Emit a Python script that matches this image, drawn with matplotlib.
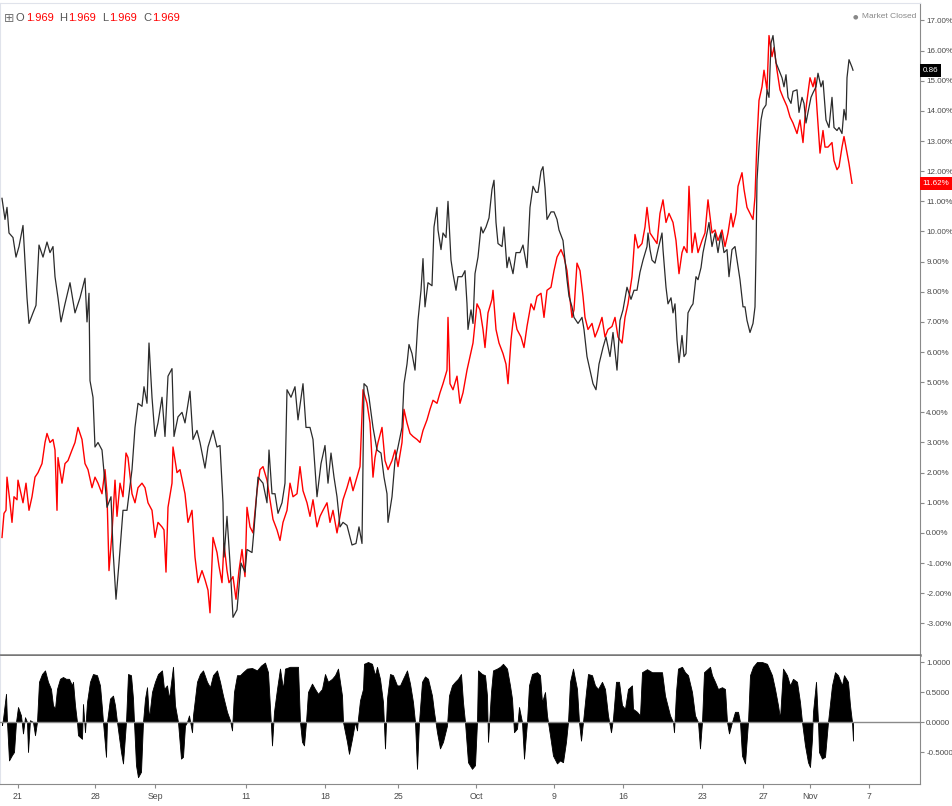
import matplotlib
matplotlib.use("Agg")
import matplotlib.pyplot as plt
import matplotlib.transforms as mtransforms
import numpy as np

plt.rcParams["font.family"] = ["Liberation Sans", "DejaVu Sans"]
plt.rcParams["axes.unicode_minus"] = False

# ---------------------------------------------------------------------------
# Data (x = bar index, values in % for the price panel, correlation below)
# ---------------------------------------------------------------------------
black_bar = [2, 5, 7, 9, 13, 16, 19, 23, 27, 29, 33, 36, 39, 43, 47, 50, 53, 55, 58, 61,
             65, 70, 75, 80, 85, 87, 89, 90, 93, 95, 98, 102, 105, 107, 111, 113, 116, 119,
             123, 127, 132, 135, 138, 142, 144, 147, 149, 152, 155, 158, 162, 165, 168, 172,
             174, 178, 182, 185, 190, 193, 197, 200, 205, 208, 213, 217, 220, 223, 224, 227,
             230, 233, 237, 241, 245, 247, 252, 254, 258, 263, 267, 269, 272, 275, 278, 282,
             285, 287, 291, 295, 298, 303, 306, 310, 313, 317, 321, 325, 328, 331, 334, 337,
             340, 343, 347, 352, 356, 359, 362, 364, 367, 369, 373, 377, 381, 384, 387, 388,
             392, 395, 398, 402, 404, 407, 409, 412, 415, 418, 421, 423, 425, 428, 432, 434,
             437, 438, 441, 443, 446, 448, 451, 453, 456, 458, 462, 465, 467, 468, 471, 473,
             475, 478, 481, 483, 486, 489, 492, 494, 496, 498, 502, 504, 507, 509, 513, 516,
             520, 523, 527, 530, 533, 536, 538, 541, 543, 545, 547, 551, 554, 557, 559, 563,
             565, 567, 569, 572, 574, 578, 582, 584, 587, 590, 593, 596, 599, 603, 606, 610,
             613, 617, 620, 623, 627, 631, 634, 637, 640, 643, 647, 648, 650, 652, 655, 658,
             662, 663, 666, 668, 671, 673, 675, 677, 679, 682, 684, 686, 688, 691, 693, 696,
             698, 701, 703, 707, 709, 712, 715, 718, 721, 724, 727, 729, 732, 735, 737, 740,
             743, 745, 747, 750, 753, 755, 756, 757, 759, 761, 763, 766, 767, 769, 771, 773,
             776, 779, 782, 784, 786, 788, 791, 793, 797, 799, 802, 804, 806, 808, 811, 813,
             816, 818, 821, 823, 826, 829, 832, 834, 837, 839, 842, 844, 846, 847, 849, 852,
             853]
black_val = [11.1, 10.4, 10.8, 9.95, 9.8, 9.15, 9.5, 10.2, 7.8, 6.95, 7.3, 7.55, 9.55, 9.15,
             9.65, 9.3, 9.5, 8.5, 7.8, 7.0, 7.6, 8.3, 7.3, 7.8, 8.45, 7.0, 7.95, 5.05, 4.5,
             2.85, 3.0, 2.75, 1.65, 0.85, 1.2, -0.55, -2.2, -1.0, 0.75, 0.75, 2.1, 3.5, 4.3,
             4.2, 4.85, 4.3, 6.3, 4.5, 3.2, 3.65, 4.5, 3.2, 5.2, 5.45, 3.2, 3.85, 4.0, 3.65,
             4.7, 3.1, 3.4, 3.0, 2.15, 2.85, 3.4, 2.85, 2.9, 1.0, -0.8, 0.55, -1.0, -2.8,
             -2.55, -1.0, -1.3, -0.55, -0.65, 0.1, 1.85, 1.65, 1.0, 2.75, 1.3, 1.3, 0.65, 1.0,
             1.65, 4.75, 4.5, 4.85, 3.75, 4.95, 3.5, 3.5, 3.1, 1.2, 2.3, 2.9, 1.65, 2.65, 1.85,
             1.2, 0.2, 0.35, 0.25, -0.4, -0.35, 0.2, -0.35, 4.95, 4.85, 4.5, 3.5, 2.75, 2.65,
             1.85, 1.3, 0.35, 1.2, 2.4, 2.85, 3.5, 4.95, 5.6, 6.25, 5.95, 5.4, 7.05, 8.05, 9.1,
             7.5, 8.3, 8.2, 10.15, 10.8, 10.05, 9.4, 9.95, 9.8, 11.0, 9.05, 8.6, 8.05, 8.5, 8.5,
             8.7, 7.6, 6.75, 7.4, 6.95, 8.6, 9.15, 10.15, 9.95, 10.15, 10.45, 11.4, 11.7, 10.3,
             9.6, 9.5, 10.15, 8.8, 9.15, 8.6, 9.3, 9.3, 9.55, 8.8, 10.8, 11.5, 11.3, 11.3, 12.0,
             12.15, 11.45, 10.4, 10.65, 10.65, 10.4, 10.05, 9.7, 9.05, 8.4, 7.85, 7.5, 7.15,
             6.95, 7.15, 6.75, 5.85, 5.4, 4.95, 4.75, 5.6, 6.15, 6.5, 5.85, 6.65, 5.4, 7.05,
             7.4, 8.15, 7.75, 8.05, 8.05, 8.65, 9.05, 9.5, 9.95, 9.4, 9.05, 8.95, 9.4, 9.95,
             9.4, 8.15, 7.6, 7.8, 7.3, 7.6, 6.4, 5.65, 6.55, 5.85, 5.95, 7.3, 7.5, 7.6, 8.5,
             8.4, 8.8, 9.3, 9.95, 10.3, 9.5, 9.95, 9.3, 9.95, 9.3, 9.4, 8.5, 9.4, 9.5, 9.05,
             8.4, 7.5, 7.5, 7.05, 6.65, 6.95, 7.5, 9.3, 11.7, 12.8, 13.7, 14.05, 14.2, 14.7,
             14.45, 16.25, 16.5, 15.6, 15.35, 15.1, 14.8, 15.2, 14.45, 14.25, 14.65, 14.7,
             13.95, 14.45, 14.25, 13.6, 13.95, 14.45, 14.6, 14.8, 15.25, 14.8, 15.0, 13.7,
             13.45, 14.45, 13.45, 13.35, 13.45, 13.25, 14.05, 13.7, 15.1, 15.7, 15.45, 15.35]

red_bar = [2, 4, 6, 7, 10, 12, 14, 17, 18, 21, 23, 26, 29, 32, 35, 38, 42, 45, 47, 50, 53,
           55, 57, 58, 62, 65, 68, 72, 75, 78, 82, 85, 88, 92, 95, 98, 102, 105, 107, 109,
           112, 115, 117, 120, 123, 126, 128, 132, 135, 138, 142, 145, 148, 152, 155, 158,
           162, 164, 166, 168, 172, 173, 177, 180, 185, 188, 192, 195, 198, 202, 205, 208,
           210, 213, 217, 219, 222, 224, 227, 229, 233, 236, 239, 242, 245, 247, 250, 253,
           257, 260, 263, 267, 270, 273, 277, 280, 283, 287, 290, 293, 297, 300, 303, 307,
           310, 313, 317, 320, 323, 327, 330, 333, 337, 340, 343, 347, 350, 353, 357, 360,
           363, 367, 370, 373, 375, 378, 382, 385, 388, 392, 395, 398, 402, 404, 407, 410,
           413, 417, 420, 423, 427, 430, 433, 437, 440, 443, 447, 448, 450, 453, 457, 460,
           463, 467, 470, 473, 477, 480, 483, 485, 488, 492, 493, 496, 499, 503, 506, 508,
           511, 514, 517, 521, 524, 527, 531, 534, 537, 541, 544, 547, 551, 554, 557, 561,
           564, 567, 569, 572, 574, 577, 580, 583, 585, 588, 592, 595, 598, 602, 605, 608,
           612, 615, 618, 622, 625, 628, 632, 635, 638, 642, 645, 647, 650, 653, 657, 660,
           663, 666, 669, 673, 676, 679, 682, 684, 687, 689, 692, 695, 698, 702, 705, 708,
           712, 715, 718, 722, 725, 728, 731, 733, 736, 738, 742, 744, 747, 750, 753, 755,
           757, 759, 762, 764, 767, 769, 772, 774, 777, 780, 783, 787, 790, 793, 797, 800,
           803, 805, 807, 810, 813, 815, 817, 820, 823, 825, 828, 832, 834, 837, 839, 842,
           844, 847, 849, 852]
red_val = [-0.15, 0.65, 0.75, 1.85, 1.0, 0.35, 1.2, 1.1, 1.75, 1.3, 1.0, 1.65, 0.75, 1.2,
           1.85, 2.0, 2.3, 3.0, 3.3, 3.0, 3.1, 2.75, 0.75, 2.5, 1.65, 2.3, 2.4, 2.75, 3.0,
           3.5, 3.1, 2.3, 2.1, 1.5, 1.85, 1.65, 1.3, 2.1, 1.3, -1.25, 0.0, 1.75, 0.55, 1.65,
           1.2, 2.65, 2.5, 1.3, 1.0, 1.5, 1.65, 1.5, 1.0, 0.75, -0.15, 0.35, 0.2, 0.1, -1.3,
           0.85, 1.65, 2.85, 2.0, 2.1, 1.3, 0.35, 0.75, -0.8, -1.65, -1.25, -1.55, -1.9,
           -2.65, -0.15, -0.65, -1.1, -1.65, -0.35, -1.25, -1.65, -1.45, -2.2, -1.25, -0.55,
           -1.45, 0.85, 0.2, 0.0, 1.4, 2.1, 2.2, 1.75, 1.1, 0.45, 0.1, -0.25, 0.35, 0.75,
           1.65, 1.2, 1.3, 2.2, 1.4, 1.0, 0.55, 1.1, 0.2, 0.55, 0.75, 1.0, 0.35, 0.75, 0.0,
           0.55, 1.1, 1.5, 1.85, 1.4, 1.85, 2.2, 4.75, 4.3, 3.65, 1.85, 2.5, 3.0, 3.5, 2.4,
           2.1, 2.4, 2.75, 2.2, 3.0, 4.1, 3.65, 3.3, 3.2, 3.1, 3.0, 3.4, 3.75, 4.1, 4.4, 4.3,
           4.65, 4.95, 5.4, 7.15, 4.95, 4.75, 5.2, 4.3, 4.65, 5.4, 5.85, 6.3, 7.6, 7.4, 6.75,
           6.15, 7.3, 7.75, 8.05, 6.75, 6.3, 5.95, 5.6, 4.95, 6.4, 7.3, 6.75, 6.5, 6.15, 6.85,
           7.6, 7.4, 7.85, 7.95, 7.15, 8.05, 8.15, 8.7, 9.15, 9.4, 9.15, 8.7, 8.05, 7.15, 7.4,
           8.95, 8.7, 7.85, 7.15, 6.75, 6.95, 6.5, 6.75, 7.15, 6.5, 6.75, 6.85, 7.15, 6.5,
           6.3, 7.15, 7.6, 8.5, 9.9, 9.45, 9.6, 10.15, 10.8, 9.95, 9.8, 9.6, 10.6, 11.05,
           10.3, 10.6, 10.3, 9.7, 8.6, 9.3, 9.5, 9.3, 11.5, 9.3, 9.95, 9.3, 9.7, 9.95, 11.05,
           9.95, 10.05, 9.7, 10.05, 9.5, 9.95, 10.6, 10.15, 10.6, 11.5, 11.95, 11.4, 10.8,
           10.6, 10.4, 11.15, 13.05, 14.35, 14.8, 15.35, 14.7, 16.5, 15.8, 16.1, 15.35, 14.7,
           14.45, 14.15, 13.8, 13.6, 13.25, 13.7, 12.95, 13.8, 14.35, 15.1, 14.8, 15.1, 14.05,
           12.6, 13.35, 12.8, 12.8, 12.95, 12.35, 12.05, 12.15, 12.8, 13.15, 12.6, 12.25, 11.6]

corr_bar = [2, 3, 6, 7, 9, 12, 14, 16, 18, 21, 23, 25, 27, 28, 30, 33, 35, 37, 39, 42, 45,
            48, 51, 53, 55, 57, 60, 63, 66, 69, 72, 73, 75, 77, 78, 82, 83, 85, 87, 90, 93,
            97, 100, 102, 103, 106, 107, 110, 113, 115, 117, 121, 123, 126, 128, 131, 133,
            134, 136, 138, 141, 143, 145, 147, 149, 152, 155, 158, 162, 164, 167, 169, 173,
            175, 178, 181, 183, 185, 187, 189, 192, 193, 197, 200, 203, 207, 210, 213, 217,
            220, 223, 227, 230, 232, 234, 237, 240, 243, 247, 252, 257, 261, 265, 268, 271,
            272, 274, 277, 280, 283, 285, 290, 295, 298, 300, 302, 304, 306, 308, 312, 315,
            318, 322, 325, 328, 332, 335, 338, 342, 343, 347, 349, 352, 355, 357, 358, 360,
            363, 364, 368, 372, 375, 377, 380, 383, 385, 387, 390, 393, 397, 400, 403, 407,
            410, 413, 415, 417, 419, 422, 425, 428, 432, 434, 437, 440, 443, 447, 449, 452,
            455, 458, 461, 463, 465, 468, 472, 475, 477, 478, 482, 485, 487, 488, 491, 493,
            497, 500, 503, 507, 510, 512, 514, 517, 519, 522, 524, 527, 529, 532, 537, 540,
            542, 545, 547, 550, 553, 557, 560, 563, 566, 568, 570, 573, 577, 579, 581, 583,
            586, 588, 592, 595, 598, 602, 605, 608, 611, 613, 616, 619, 622, 625, 628, 632,
            633, 637, 640, 642, 647, 652, 657, 662, 665, 670, 673, 674, 676, 678, 682, 685,
            688, 692, 695, 698, 700, 702, 704, 708, 710, 712, 715, 718, 722, 725, 727, 729,
            732, 735, 738, 740, 742, 745, 748, 750, 753, 757, 762, 767, 772, 775, 778, 780,
            783, 787, 790, 793, 797, 800, 802, 805, 808, 810, 812, 813, 816, 818, 819, 822,
            825, 828, 832, 835, 838, 842, 844, 848, 850, 852, 853]
corr_val = [-0.05, 0.05, 0.47, 0.0, -0.64, -0.55, -0.5, 0.0, 0.25, 0.11, -0.19, 0.08, 0.0,
            -0.5, 0.03, 0.0, -0.22, 0.0, 0.67, 0.8, 0.86, 0.67, 0.55, 0.28, 0.22, 0.55, 0.72,
            0.75, 0.72, 0.72, 0.61, 0.67, 0.28, 0.0, -0.22, -0.28, 0.3, -0.17, 0.33, 0.67,
            0.8, 0.78, 0.61, 0.22, 0.0, -0.58, 0.0, 0.39, 0.44, 0.28, 0.0, -0.5, -0.69, 0.0,
            0.8, 0.78, 0.39, 0.0, -0.72, -0.92, -0.83, 0.0, 0.39, 0.58, 0.06, 0.5, 0.67, 0.8,
            0.86, 0.55, 0.61, 0.39, 0.92, 0.28, 0.0, -0.61, -0.58, -0.06, 0.0, 0.11, -0.17,
            0.11, 0.67, 0.8, 0.86, 0.67, 0.58, 0.78, 0.86, 0.67, 0.44, 0.17, 0.03, -0.14, 0.5,
            0.78, 0.78, 0.83, 0.89, 0.9, 0.86, 0.94, 0.99, 0.83, -0.06, -0.39, 0.17, 0.55,
            0.89, 0.55, 0.89, 0.92, 0.92, 0.92, 0.0, -0.33, -0.39, 0.0, 0.5, 0.64, 0.55, 0.47,
            0.55, 0.8, 0.67, 0.72, 0.78, 0.89, 0.44, 0.0, -0.33, -0.53, -0.28, 0.0, -0.14,
            0.06, 0.36, 0.55, 0.97, 1.0, 0.97, 0.78, 0.92, 0.72, 0.33, -0.44, 0.39, 0.8, 0.78,
            0.61, 0.61, 0.72, 0.86, 0.64, 0.33, 0.0, -0.78, 0.0, 0.67, 0.76, 0.72, 0.44, 0.17,
            -0.17, -0.44, -0.33, -0.06, 0.44, 0.61, 0.67, 0.72, 0.8, 0.33, 0.0, -0.67, -0.78,
            -0.72, 0.0, 0.86, 0.8, 0.78, 0.44, -0.33, 0.5, 0.86, 0.89, 0.92, 0.97, 0.89, 0.61,
            0.39, -0.17, -0.11, 0.25, 0.0, -0.61, 0.0, 0.61, 0.8, 0.83, 0.78, 0.33, 0.5, 0.11,
            -0.22, -0.56, -0.69, -0.64, -0.67, -0.33, 0.0, 0.67, 0.89, 0.55, 0.0, -0.31, 0.0,
            0.5, 0.8, 0.78, 0.61, 0.55, 0.67, 0.55, 0.11, -0.17, 0.06, 0.67, 0.67, 0.28, 0.22,
            0.55, 0.61, 0.22, 0.17, 0.11, 0.83, 0.88, 0.83, 0.83, 0.83, 0.44, 0.11, 0.0,
            -0.17, 0.5, 0.89, 0.92, 0.83, 0.78, 0.5, 0.11, 0.0, -0.44, 0.0, 0.83, 0.89, 0.92,
            0.78, 0.67, 0.55, 0.58, 0.55, 0.0, -0.19, 0.0, 0.17, 0.17, 0.0, -0.56, -0.69, 0.0,
            0.78, 0.92, 1.0, 1.0, 0.97, 0.78, 0.55, 0.28, 0.06, 0.89, 0.78, 0.61, 0.72, 0.67,
            0.33, 0.0, -0.39, -0.67, -0.75, -0.28, 0.17, 0.67, 0.0, -0.5, -0.61, -0.58, 0.0,
            0.61, 0.83, 0.78, 0.61, 0.78, 0.67, 0.28, 0.0, -0.31]

black_last_label = 0.86
red_last_label = 11.62
ohlc_value = "1.969"

tick_bar = [18, 95, 155, 246, 325, 398, 476, 554, 623, 702, 763, 810, 869]
tick_lab = ["21", "28", "Sep", "11", "18", "25", "Oct", "9", "16", "23", "27", "Nov", "7"]

pct_ticks = list(range(-3, 18))
corr_ticks = [1.0, 0.5, 0.0, -0.5]

RED = "#ff0000"
BLK = "#2b2b2b"
AXC = "#8a8a8a"
TXT = "#4a4a4a"
LAB = 5.8

W, H = 953, 806
fig = plt.figure(figsize=(W / 100, H / 100), dpi=100)
ax = fig.add_axes([0, 1 - 655 / H, 920 / W, (655 - 3) / H])
ax2 = fig.add_axes([0, 1 - 784 / H, 920 / W, (784 - 656) / H])

# ---- price panel ----
ax.plot(red_bar, red_val, color=RED, lw=1.0, zorder=2)
ax.plot(black_bar, black_val, color=BLK, lw=0.9, zorder=3)
ax.set_xlim(0, 920)
ax.set_ylim(-4.05, 17.58)
ax.set_xticks([])
ax.yaxis.tick_right()
ax.set_yticks(pct_ticks)
ax.set_yticklabels([f"{v:.2f}%" for v in pct_ticks])
ax.tick_params(axis="y", direction="out", length=3, width=0.8, color=AXC,
               labelsize=LAB, labelcolor=TXT, pad=1.5)
for s in ("left", "top"):
    ax.spines[s].set_color("#e0e3eb")
    ax.spines[s].set_linewidth(0.8)
ax.spines["right"].set_color(AXC)
ax.spines["bottom"].set_color("#777777")
ax.spines["bottom"].set_linewidth(1.8)

# last value badges
trans = mtransforms.blended_transform_factory(ax.transAxes, ax.transData)
ax.text(1.003, black_val[-1], f"{black_last_label:.2f}", transform=trans, ha="left",
        va="center", fontsize=LAB, color="white", clip_on=False,
        bbox=dict(boxstyle="square,pad=0.35", fc="black", ec="none"))
ax.text(1.003, red_val[-1], f"{red_last_label:.2f}%", transform=trans, ha="left",
        va="center", fontsize=LAB, color="white", clip_on=False,
        bbox=dict(boxstyle="square,pad=0.35", fc=RED, ec="none"))

# ---- correlation panel ----
ax2.fill_between(corr_bar, 0, corr_val, color="black", lw=0.6, zorder=2)
ax2.axhline(0, color=AXC, lw=1.0, zorder=3)
ax2.set_xlim(0, 920)
ax2.set_ylim(-1.033, 1.1)
ax2.yaxis.tick_right()
ax2.set_yticks(corr_ticks)
ax2.set_yticklabels([f"{v:.4f}" for v in corr_ticks])
ax2.tick_params(axis="y", direction="out", length=3, width=0.8, color=AXC,
                labelsize=LAB, labelcolor=TXT, pad=1.5)
ax2.set_xticks(tick_bar)
ax2.set_xticklabels(tick_lab)
ax2.tick_params(axis="x", direction="out", length=3, width=0.8, color=AXC,
                labelsize=6.3, labelcolor=TXT, pad=3)
ax2.spines["top"].set_visible(False)
ax2.spines["left"].set_color("#e0e3eb")
ax2.spines["right"].set_color(AXC)
ax2.spines["bottom"].set_color(AXC)

# ---- header texts ----
def fx(px):
    return px / W


def fy(py):
    return 1 - py / H


renderer = fig.canvas.get_renderer()
fig.text(fx(4), fy(18), "\u229e", fontsize=9, color="#777777", va="center",
         family="DejaVu Sans")
xpos = 16
for letter in ["O", "H", "L", "C"]:
    t = fig.text(fx(xpos), fy(18), letter, fontsize=8, color="#555555", va="center")
    xpos = t.get_window_extent(renderer).x1 + 1
    t = fig.text(fx(xpos), fy(18), ohlc_value, fontsize=8, color=RED, va="center")
    xpos = t.get_window_extent(renderer).x1 + 6

mc = fig.text(fx(916), fy(17), "Market Closed", fontsize=6, color="#888888", va="center",
              ha="right")
mc_left = mc.get_window_extent(renderer).x0
fig.text((mc_left - 3) / W, fy(17), "\u25cf", fontsize=4.5, color="#888888",
         va="center", ha="right", family="DejaVu Sans")

fig.savefig("out.png", dpi=100)
